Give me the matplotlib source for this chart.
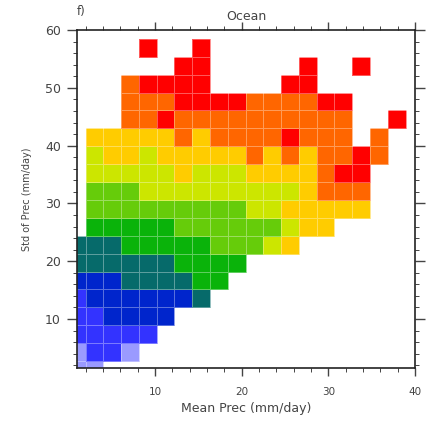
import numpy as np
import matplotlib
matplotlib.use("Agg")
import matplotlib.pyplot as plt
from matplotlib.colors import ListedColormap, BoundaryNorm
from matplotlib.ticker import MultipleLocator

# bin edges of the mean / std classes
x_edges = [0.0, 2.0, 4.05, 6.1, 8.15, 10.2, 12.25, 14.3, 16.35, 18.4, 20.45,
           22.5, 24.55, 26.6, 28.65, 30.7, 32.75, 34.8, 36.85, 38.9, 40.95]
y_edges = [-0.3, 2.8, 5.9, 9.0, 12.1, 15.2, 18.2, 21.3, 24.4, 27.5, 30.6,
           33.7, 36.8, 39.9, 43.0, 46.1, 49.2, 52.2, 55.3, 58.4]

# colour class of each cell, bottom row first ('.' = no data)
rows = [
    "00..................",
    "0110................",
    "11111...............",
    "112222..............",
    "12222223............",
    "222333344...........",
    "3333334444..........",
    "3334444455567.......",
    ".44444555555677.....",
    ".5555555556677777...",
    ".5556666666667888...",
    ".6666676667777899...",
    ".67767777787878898..",
    ".777778788889888.8..",
    "...8898888888888..9.",
    "...8889999888899....",
    "...89999....99......",
    "......99.....9..9...",
    "....9..9............",
]

colors = ["#9a9aff", "#3333ff", "#0025cc", "#066a6a", "#0ab30a",
          "#66cc0a", "#cce600", "#ffcc00", "#ff6600", "#ff0000"]

grid = np.array([[np.nan if c == "." else float(c) for c in r] for r in rows])
grid = np.ma.masked_invalid(grid)

cmap = ListedColormap(colors)
norm = BoundaryNorm(np.arange(-0.5, len(colors)), cmap.N)

txt = "#444444"

fig = plt.figure(figsize=(4.32, 4.25), dpi=100)
ax = fig.add_axes([0.178, 0.134, 0.783, 0.795])

ax.pcolormesh(x_edges, y_edges, grid, cmap=cmap, norm=norm,
              edgecolors=(1, 1, 1, 0.35), linewidth=0.6)

ax.set_xlim(1, 40)
ax.set_ylim(1.5, 60)

ax.xaxis.set_major_locator(MultipleLocator(10))
ax.xaxis.set_minor_locator(MultipleLocator(2))
ax.yaxis.set_major_locator(MultipleLocator(10))
ax.yaxis.set_minor_locator(MultipleLocator(2))
ax.tick_params(which="both", direction="out", top=True, right=True,
               labelcolor=txt, color="#444444")
ax.tick_params(axis="x", which="major", length=5.5, width=1.0, pad=8, labelsize=7.5)
ax.tick_params(axis="y", which="major", length=7.5, width=1.0, pad=4, labelsize=9)
ax.tick_params(which="minor", length=3, width=0.7)
for s in ax.spines.values():
    s.set_linewidth(1.2)
    s.set_color("#222222")

ax.set_xlabel("Mean Prec (mm/day)", fontsize=9, color=txt, labelpad=4)
ax.set_ylabel("Std of Prec (mm/day)", fontsize=7, color=txt, labelpad=9)
ax.set_title("Ocean", fontsize=9, color=txt, pad=7)
ax.text(0.0, 1.035, "f)", transform=ax.transAxes, fontsize=8.5,
        color=txt, ha="left", va="bottom")

fig.savefig("out.png", dpi=100)
